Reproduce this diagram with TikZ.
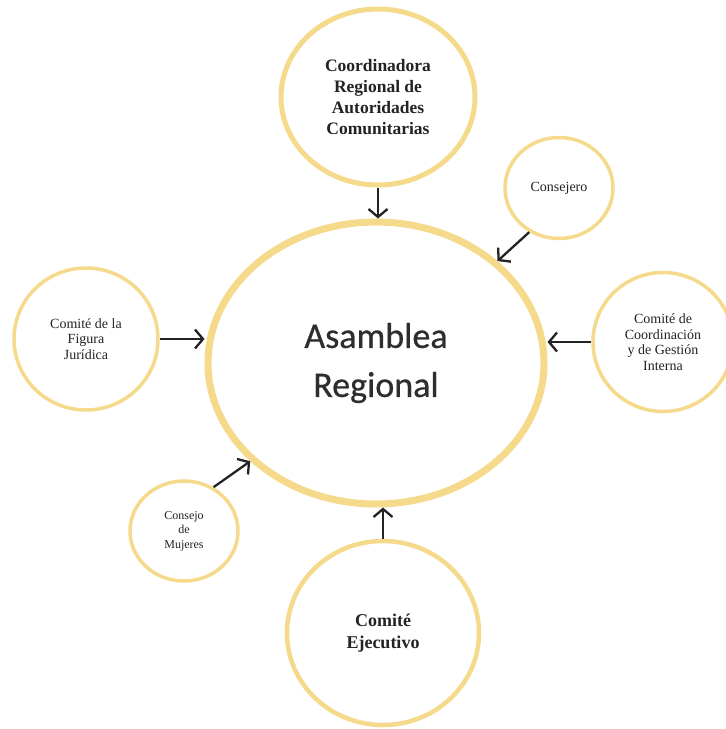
\documentclass[tikz,border=0pt]{standalone}
\usepackage{fontspec}
\setmainfont{Liberation Serif}
\newfontfamily\carlito[FakeBold=0.6]{Carlito}
\usetikzlibrary{shapes.geometric,arrows.meta}
\definecolor{ringgold}{RGB}{245,218,140}
\definecolor{inkgray}{RGB}{35,35,35}
\tikzset{
  ring/.style={ellipse, draw=ringgold, line width=3.5pt, inner sep=0pt, align=center, text=inkgray},
  arr/.style={line width=2.3pt, draw=inkgray, -{Straight Barb[length=8pt,width=19pt,line width=2.3pt]}}
}
\begin{document}
\begin{tikzpicture}[x=1pt,y=-1pt]
\useasboundingbox[fill=white] (0,0) rectangle (726,729);
% central assembly
\node[ring, line width=7pt, minimum width=336pt, minimum height=282pt,
      font={\carlito\fontsize{36}{49}\selectfont}, text=inkgray!95!white] (main) at (376,363) {Asamblea\\Regional};
% satellites
\node[ring, line width=5pt, minimum width=194pt, minimum height=176pt,
      font={\bfseries\fontsize{17.5}{21}\selectfont}] (coord) at (378,97)
      {Coordinadora\\Regional de\\Autoridades\\Comunitarias};
\node[ring, minimum width=108pt, minimum height=101pt,
      font={\fontsize{14}{16}\selectfont}] (cons) at (559,188) {Consejero};
\node[ring, minimum width=140pt, minimum height=139pt,
      font={\fontsize{14}{15.5}\selectfont}] (cgi) at (663,342)
      {Comité de\\Coordinación\\y de Gestión\\Interna};
\node[ring, minimum width=144pt, minimum height=142pt,
      font={\fontsize{14}{15.5}\selectfont}] (fig) at (86,339)
      {Comité de la\\Figura\\Jurídica};
\node[ring, minimum width=108pt, minimum height=100pt,
      font={\fontsize{12}{14.5}\selectfont}] (muj) at (184,531)
      {Consejo\\de\\Mujeres};
\node[ring, line width=4.5pt, minimum width=192pt, minimum height=184pt,
      font={\bfseries\fontsize{18}{22}\selectfont}] (ejec) at (383,633)
      {Comité\\Ejecutivo};
% connectors
\draw[arr] (coord.south) -- (coord.south |- main.north);
\draw[arr] (cons.236) -- (main.40);
\draw[arr] (cgi.west) -- (cgi.west -| main.east);
\draw[arr] (fig.east) -- (fig.east -| main.west);
\draw[arr] (muj.56) -- (main.218);
\draw[arr] (ejec.north) -- (ejec.north |- main.south);
\end{tikzpicture}
\end{document}
